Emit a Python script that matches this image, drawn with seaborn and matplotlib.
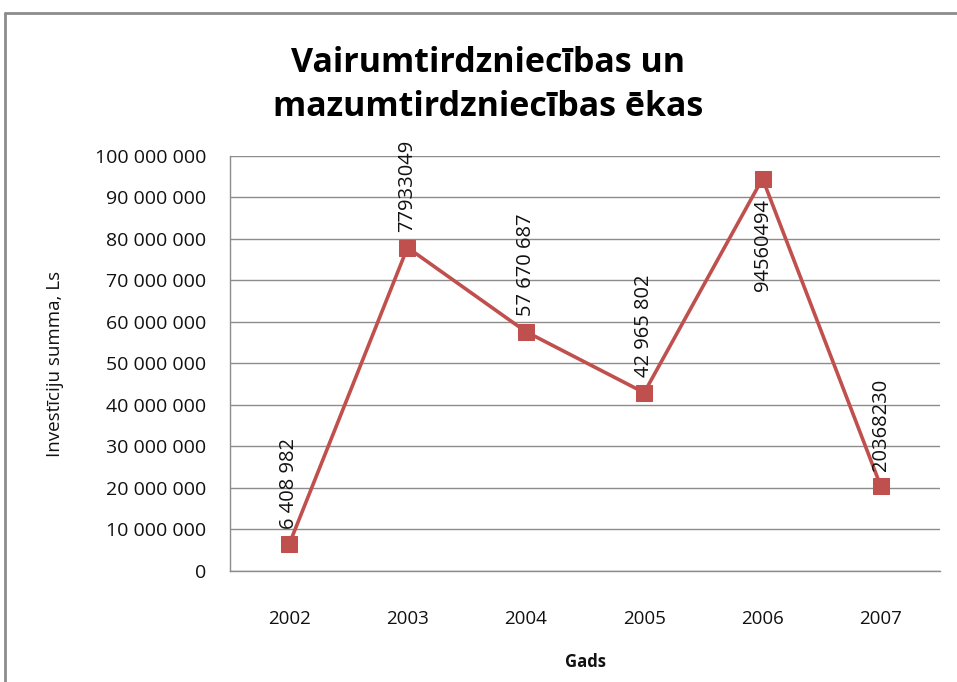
import pandas as pd
import seaborn as sns
from matplotlib import pyplot as plt
from matplotlib.lines import Line2D
from matplotlib.ticker import FuncFormatter, FixedLocator

years = ['2002', '2003', '2004', '2005', '2006', '2007']
amounts = [6408982, 77933049, 57670687, 42965802, 94560494, 20368230]
point_labels = ['6 408 982', '77933049', '57 670 687', '42 965 802', '94560494', '20368230']
label_below = [False, False, False, False, True, False]

sns.set_style('white')
plt.rcParams['font.family'] = ['Open Sans', 'DejaVu Sans']

df = pd.DataFrame({'year': years, 'amount': amounts})

fig = plt.figure(figsize=(9.57, 6.82), dpi=100)
ax = fig.add_axes([0.2403, 0.1628, 0.742, 0.6085])

sns.lineplot(data=df, x='year', y='amount', ax=ax, color='#C0504D', linewidth=2.6,
             marker='s', markersize=12, markeredgecolor='#C0504D', markerfacecolor='#C0504D')

ax.set_ylim(0, 100_000_000)
ax.set_xlim(-0.5, len(years) - 0.5)
ax.set_yticks(range(0, 100_000_001, 10_000_000))
ax.yaxis.set_major_formatter(FuncFormatter(lambda v, p: f'{int(v):,}'.replace(',', ' ')))
ax.grid(axis='y', color='#8c8c8c', linewidth=1)
ax.set_axisbelow(True)

ax.set_xticks(range(len(years)))
ax.set_xticklabels(years)
ax.xaxis.set_minor_locator(FixedLocator([i - 0.5 for i in range(len(years) + 1)]))
ax.tick_params(axis='x', which='major', length=0, pad=28, labelsize=13.5, labelcolor='#111111')
ax.tick_params(axis='x', which='minor', length=7, color='#8c8c8c', width=1, direction='out')
ax.tick_params(axis='y', length=8, color='#8c8c8c', width=1, direction='out', labelsize=14,
               labelcolor='#111111', pad=9)

for side in ['top', 'right']:
    ax.spines[side].set_visible(False)
for side in ['left', 'bottom']:
    ax.spines[side].set_color('#8c8c8c')
    ax.spines[side].set_linewidth(1)

ax.set_xlabel('Gads', fontsize=12, fontweight='bold', labelpad=18, color='#111111')
ax.set_ylabel('Investīciju summa, Ls', fontsize=13.5, labelpad=22, color='#111111')

for i, (val, txt, below) in enumerate(zip(amounts, point_labels, label_below)):
    offset = -15 if below else 11
    ax.annotate(txt, (i, val), xytext=(0, offset), textcoords='offset points',
                rotation=90, ha='center', va='top' if below else 'bottom',
                fontsize=14.5, color='#111111')

fig.text(0.51, 0.908, 'Vairumtirdzniecības un', ha='center', va='center',
         fontsize=24.5, fontweight='bold', color='black')
fig.text(0.51, 0.843, 'mazumtirdzniecības ēkas', ha='center', va='center',
         fontsize=24.5, fontweight='bold', color='black')

# outer chart border
fig.add_artist(Line2D([5 / 957, 5 / 957], [0, 1 - 13 / 682], transform=fig.transFigure,
                      color='#8c8c8c', linewidth=2))
fig.add_artist(Line2D([5 / 957, 1], [1 - 13 / 682, 1 - 13 / 682], transform=fig.transFigure,
                      color='#8c8c8c', linewidth=2))

fig.savefig('out.png', dpi=100)
